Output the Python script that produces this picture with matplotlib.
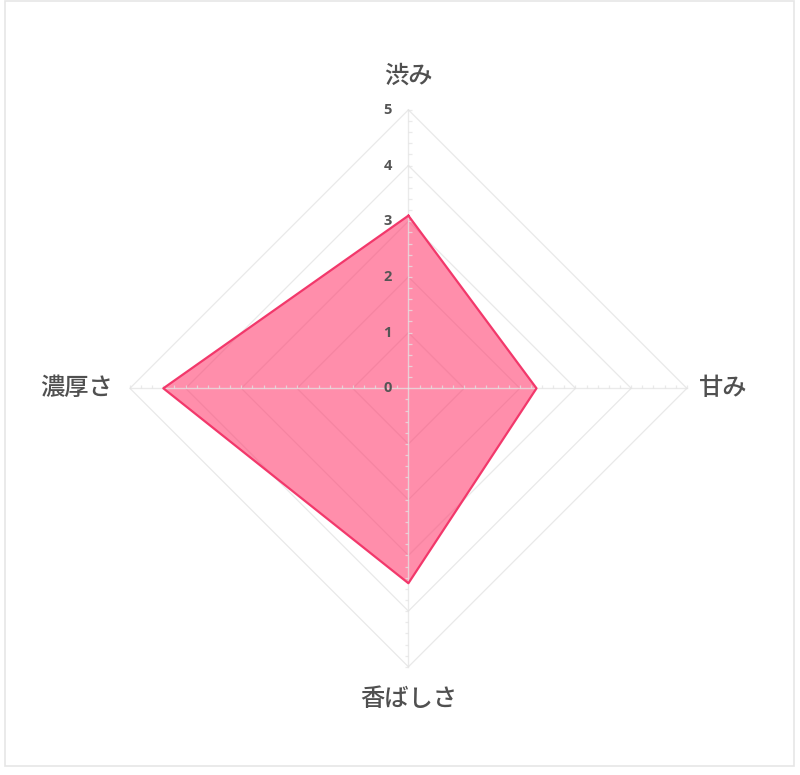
import numpy as np
import matplotlib.pyplot as plt
from matplotlib.patches import Rectangle

plt.rcParams['font.family'] = ['Noto Sans CJK JP', 'DejaVu Sans']

# data
labels = ['渋み', '甘み', '香ばしさ', '濃厚さ']
values = [3.1, 2.3, 3.5, 4.4]
rings = [1, 2, 3, 4, 5]
tick_labels = ['0', '1', '2', '3', '4', '5']

n = len(labels)
ang = np.arange(n) * 2 * np.pi / n      # clockwise from top

def xy(r, a):
    return r * np.sin(a), r * np.cos(a)

fig = plt.figure(figsize=(8, 7.75), dpi=100)
# thin light frame round the chart
fig.patches.append(Rectangle((5 / 800, 9 / 775), 789 / 800, 765 / 775,
                             transform=fig.transFigure, fill=False,
                             edgecolor='#e6e6e6', linewidth=1.2))

ax = fig.add_axes([0.1276, 0.1037, 0.7658, 0.7905])
ax.set_xlim(-5.5, 5.5)
ax.set_ylim(-5.5, 5.5)
ax.set_aspect('equal')
ax.axis('off')

# diamond grid
for r in rings:
    gx, gy = xy(r, np.append(ang, ang[0]))
    ax.plot(gx, gy, color='#e9e9e9', lw=0.9, zorder=1)

# data polygon
px, py = xy(np.array(values + values[:1]), np.append(ang, ang[0]))
ax.fill(px, py, color='#ff3c6e', alpha=0.58, lw=0, zorder=2)

# spokes with small one-sided ticks (drawn over the fill)
minor = np.arange(1, 26) * 0.2
tl = 0.06
spoke_c = '#e4e4e4'
for a in ang:
    sx, sy = xy(np.array([0, 5]), a)
    ax.plot(sx, sy, color=spoke_c, lw=1, alpha=0.75, zorder=2.5)
ax.hlines(minor, 0, tl, color=spoke_c, lw=0.9, alpha=0.75, zorder=2.5)
ax.hlines(-minor, -tl, 0, color=spoke_c, lw=0.9, alpha=0.75, zorder=2.5)
ax.vlines(minor, 0, tl, color=spoke_c, lw=0.9, alpha=0.75, zorder=2.5)
ax.vlines(-minor, 0, tl, color=spoke_c, lw=0.9, alpha=0.75, zorder=2.5)

ax.plot(px, py, color='#f2386b', lw=1.6, zorder=3)

# radial tick labels
for i, t in enumerate(tick_labels):
    ax.text(-0.3, i, t, ha='right', va='center', fontsize=10.5,
            fontweight='bold', color='#555555', family=['Open Sans', 'DejaVu Sans'],
            zorder=4)

# category labels
offs = [0.62, 0.64, 0.57, 0.64]
for lab, a, o in zip(labels, ang, offs):
    lx, ly = xy(5 + o, a)
    ha = 'center'
    if np.sin(a) > 0.5:
        ha = 'left'
        lx = 5 + 0.22
    elif np.sin(a) < -0.5:
        ha = 'right'
        lx = -5 - 0.3
    ax.text(lx, ly, lab, ha=ha, va='center', fontsize=17.5, color='#505050',
            fontweight='medium', zorder=4)

fig.savefig('out.png', dpi=100)
